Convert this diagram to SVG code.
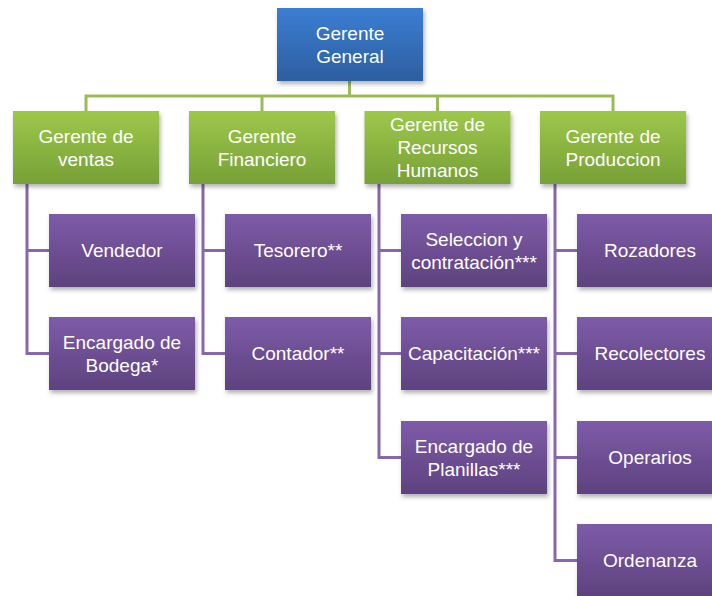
<svg xmlns="http://www.w3.org/2000/svg" width="712" height="596" viewBox="0 0 712 596">
<defs>
<linearGradient id="gb" x1="0" y1="0" x2="0" y2="1"><stop offset="0" stop-color="#3b7dd3"/><stop offset="1" stop-color="#2d5e9f"/></linearGradient>
<linearGradient id="gg" x1="0" y1="0" x2="0" y2="1"><stop offset="0" stop-color="#9dc84b"/><stop offset="1" stop-color="#77a036"/></linearGradient>
<linearGradient id="gp" x1="0" y1="0" x2="0" y2="1"><stop offset="0" stop-color="#7e5ba8"/><stop offset="1" stop-color="#5d427e"/></linearGradient>
<filter id="sh" x="-10%" y="-10%" width="125%" height="135%"><feDropShadow dx="1.5" dy="3" stdDeviation="2" flood-color="#000" flood-opacity="0.3"/></filter>
</defs>
<style>
rect{filter:url(#sh)}
.b{fill:url(#gb)}
.g{fill:url(#gg)}
.p{fill:url(#gp)}
text{font-family:"Liberation Sans",Arial,sans-serif;font-size:19px;fill:#fff;text-anchor:middle}
.lg{fill:none;stroke:#9bbb59;stroke-width:3}
.lp{fill:none;stroke:#8767ad;stroke-width:3}
</style>
<rect width="712" height="596" fill="#fff" style="filter:none"/>
<g id="connectors">
<path class="lg" d="M349.5 81V96M86 111V96H613V111M262 96V111M437.5 96V111"/>
<path class="lp" d="M27 184V353.5H49M27 250.5H49"/>
<path class="lp" d="M203 184V353.5H225M203 250.5H225"/>
<path class="lp" d="M379 184V457.5H401M379 250.5H401M379 353.5H401"/>
<path class="lp" d="M555 184V560.5H577M555 250.5H577M555 353.5H577M555 457.5H577"/>
</g>
<g id="gerente-general"><rect class="b" x="277" y="8" width="146" height="73"/><text x="350" y="39.5">Gerente</text><text x="350" y="62.5">General</text></g>
<g id="gerente-ventas"><rect class="g" x="13" y="111" width="146" height="73"/><text x="86" y="142.5">Gerente de</text><text x="86" y="165.5">ventas</text></g>
<g id="gerente-financiero"><rect class="g" x="189" y="111" width="146" height="73"/><text x="262" y="142.5">Gerente</text><text x="262" y="165.5">Financiero</text></g>
<g id="gerente-rrhh"><rect class="g" x="364.5" y="111" width="146" height="73"/><text x="437.5" y="131">Gerente de</text><text x="437.5" y="154">Recursos</text><text x="437.5" y="177">Humanos</text></g>
<g id="gerente-produccion"><rect class="g" x="540" y="111" width="146" height="73"/><text x="613" y="142.5">Gerente de</text><text x="613" y="165.5">Produccion</text></g>
<g id="vendedor"><rect class="p" x="49" y="214" width="146" height="73"/><text x="122" y="257">Vendedor</text></g>
<g id="encargado-bodega"><rect class="p" x="49" y="317" width="146" height="73"/><text x="122" y="348.5">Encargado de</text><text x="122" y="371.5">Bodega*</text></g>
<g id="tesorero"><rect class="p" x="225" y="214" width="146" height="73"/><text x="298" y="257">Tesorero**</text></g>
<g id="contador"><rect class="p" x="225" y="317" width="146" height="73"/><text x="298" y="360">Contador**</text></g>
<g id="seleccion"><rect class="p" x="401" y="214" width="146" height="73"/><text x="474" y="245.5">Seleccion y</text><text x="474" y="268.5">contratación***</text></g>
<g id="capacitacion"><rect class="p" x="401" y="317" width="146" height="73"/><text x="474" y="360">Capacitación***</text></g>
<g id="encargado-planillas"><rect class="p" x="401" y="421" width="146" height="73"/><text x="474" y="452.5">Encargado de</text><text x="474" y="475.5">Planillas***</text></g>
<g id="rozadores"><rect class="p" x="577" y="214" width="146" height="73"/><text x="650" y="257">Rozadores</text></g>
<g id="recolectores"><rect class="p" x="577" y="317" width="146" height="73"/><text x="650" y="360">Recolectores</text></g>
<g id="operarios"><rect class="p" x="577" y="421" width="146" height="73"/><text x="650" y="464">Operarios</text></g>
<g id="ordenanza"><rect class="p" x="577" y="524" width="146" height="73"/><text x="650" y="567">Ordenanza</text></g>
</svg>
